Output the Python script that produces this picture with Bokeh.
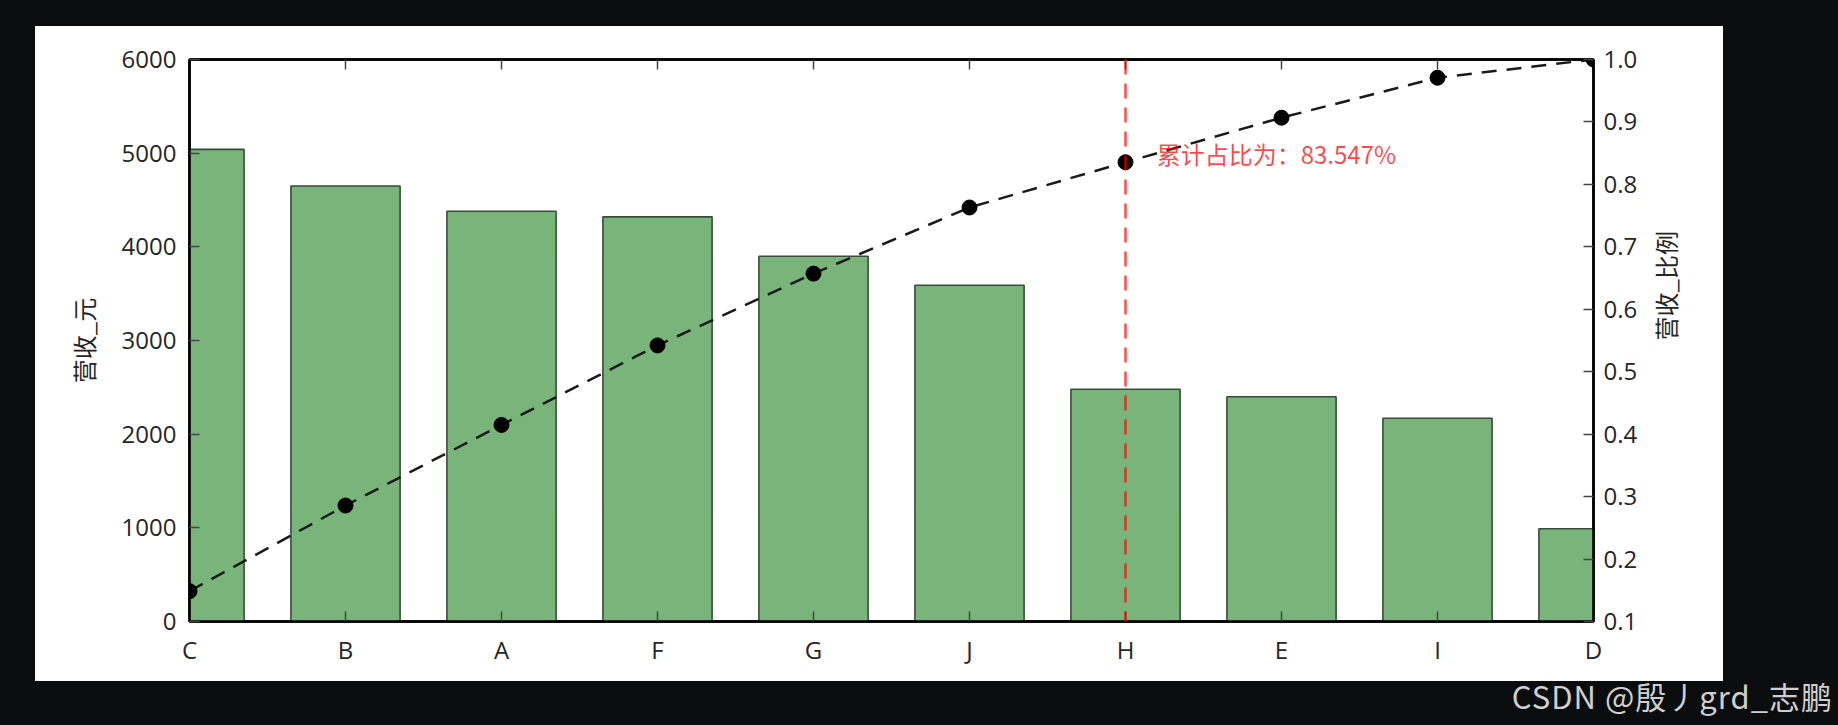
import math
from bokeh.plotting import figure
from bokeh.models import (Range1d, LinearAxis, FixedTicker, NumeralTickFormatter,
                          Span, Label, Div)
from bokeh.layouts import column, row
from bokeh.embed import file_html
from bokeh.resources import INLINE

# ---- data ----
categories = ["C", "B", "A", "F", "G", "J", "H", "E", "I", "D"]
revenue = [5040, 4650, 4380, 4320, 3900, 3590, 2480, 2400, 2170, 990]
cum_ratio = [0.1486, 0.2857, 0.4148, 0.5421, 0.6571, 0.7630, 0.8355, 0.9068, 0.9708, 1.0]
left_ticks = [0, 1000, 2000, 3000, 4000, 5000, 6000]
right_ticks = [0.1, 0.2, 0.3, 0.4, 0.5, 0.6, 0.7, 0.8, 0.9, 1.0]
cutoff_category = "H"
annotation_text = "累计占比为：83.547%"
left_label = "营收_元"
right_label = "营收_比例"
watermark = "CSDN @殷丿grd_志鹏"

xs = list(range(len(categories)))
cut_x = categories.index(cutoff_category)

DARK = "#0b0c0e"
TICK_FONT = "Open Sans"
CJK_FONT = "Noto Sans CJK SC"

p = figure(width=1688, height=655,
           x_range=Range1d(0, len(categories) - 1), y_range=Range1d(0, 6000),
           output_backend="svg", toolbar_location=None,
           min_border_left=154, min_border_right=130,
           min_border_top=33, min_border_bottom=60,
           background_fill_color="white", border_fill_color="white",
           outline_line_color="black", outline_line_width=2.5)
p.grid.visible = False
p.extra_y_ranges = {"ratio": Range1d(0.1, 1.0)}

# bars
p.vbar(x=xs, top=revenue, width=0.7, bottom=0,
       fill_color="#79b57a", line_color="#3c4a3c", line_width=1.6)

# cumulative ratio line and points
p.line(xs, cum_ratio, y_range_name="ratio", line_color="#1a1a1a",
       line_width=2.5, line_dash="15 10")
p.scatter(xs, cum_ratio, y_range_name="ratio", size=15,
          fill_color="black", line_color="black")

# cutoff line
p.add_layout(Span(location=cut_x, dimension="height", line_color="red",
                  line_alpha=0.7, line_width=2.5, line_dash="15 9"))

# annotation
p.add_layout(Label(x=cut_x + 0.2, y=0.849, y_range_name="ratio",
                   text=annotation_text, text_font=CJK_FONT,
                   text_font_size="24px", text_color="red", text_alpha=0.72,
                   text_align="left", text_baseline="middle"))

def style_axis(ax):
    ax.axis_line_color = "black"
    ax.axis_line_width = 2.5
    ax.major_tick_in = 10
    ax.major_tick_out = 0
    ax.major_tick_line_color = "#444444"
    ax.major_tick_line_width = 1.5
    ax.minor_tick_line_color = None
    ax.major_label_text_font = TICK_FONT
    ax.major_label_text_font_size = "24px"
    ax.major_label_text_color = "#262626"
    ax.axis_label_text_font = CJK_FONT
    ax.axis_label_text_font_size = "24px"
    ax.axis_label_text_font_style = "normal"
    ax.axis_label_text_color = "#262626"

# bottom axis
xa = p.xaxis[0]
xa.ticker = FixedTicker(ticks=xs)
xa.major_label_overrides = {i: c for i, c in zip(xs, categories)}
style_axis(xa)
xa.major_label_standoff = 11

# left axis
ya = p.yaxis[0]
ya.ticker = FixedTicker(ticks=left_ticks)
ya.axis_label = left_label
style_axis(ya)
ya.major_label_standoff = 13
ya.axis_label_standoff = 18

# right axis
ra = LinearAxis(y_range_name="ratio", ticker=FixedTicker(ticks=right_ticks),
                formatter=NumeralTickFormatter(format="0.0"),
                axis_label=right_label)
style_axis(ra)
ra.major_label_standoff = 10
ra.axis_label_standoff = 25
if "axis_label_orientation" in ra.properties():
    ra.axis_label_orientation = math.pi / 2
p.add_layout(ra, "right")

# top axis (ticks only, labels hidden)
ta = LinearAxis(ticker=FixedTicker(ticks=xs))
style_axis(ta)
ta.major_label_text_color = None
ta.major_label_text_font_size = "8px"
ta.major_label_standoff = 0
p.add_layout(ta, "above")

# surrounding dark screenshot frame
top_strip = Div(text="", width=1838, height=26, margin=0,
                styles={"background-color": DARK})
left_strip = Div(text="", width=35, height=655, margin=0,
                 styles={"background-color": DARK})
right_strip = Div(text="", width=115, height=655, margin=0,
                  styles={"background-color": DARK})
bottom_strip = Div(text=watermark, width=1838, height=44, margin=0,
                   styles={"background-color": DARK, "color": "#cfcfcf",
                           "font-family": CJK_FONT, "font-size": "31px",
                           "line-height": "30px", "letter-spacing": "1px",
                           "text-align": "right", "padding-right": "5px",
                           "box-sizing": "border-box"})

layout = column(top_strip, row(left_strip, p, right_strip, spacing=0),
                bottom_strip, spacing=0)

open("out.html", "w").write(file_html(layout, INLINE))
